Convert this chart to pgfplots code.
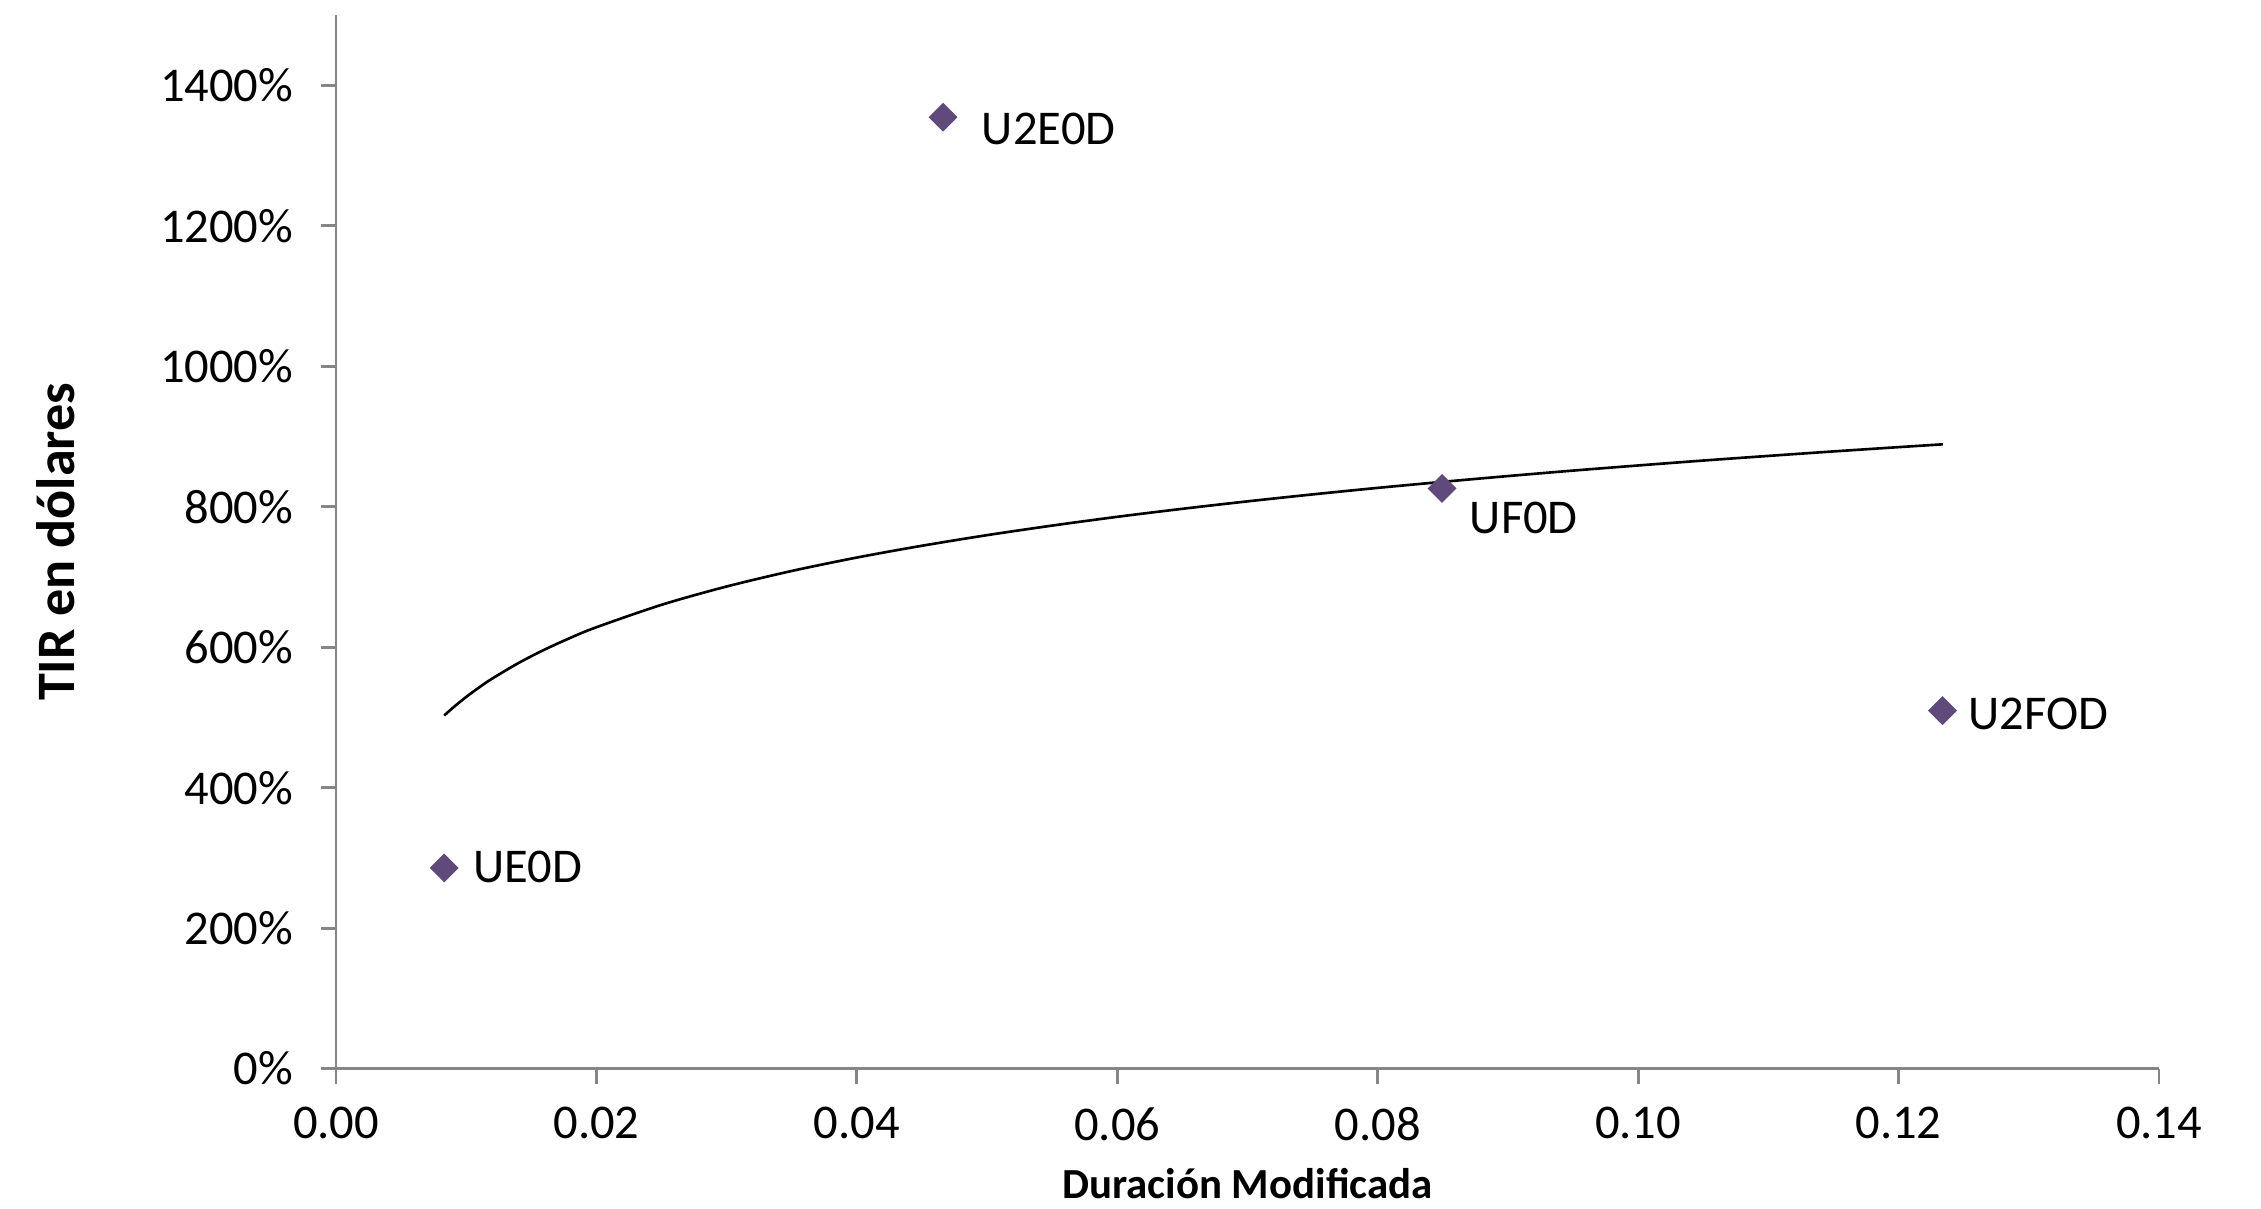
\documentclass[border=0pt]{standalone}
\usepackage{pgfplots}
\pgfplotsset{compat=1.18}
\usepackage{fontspec}
\setmainfont{Carlito}
\definecolor{axgray}{RGB}{134,134,134}
\definecolor{mk}{RGB}{96,74,123}
\begin{document}
\fontsize{13.8}{16.5}\selectfont
\begin{tikzpicture}
\path[use as bounding box] (-33.6mm,-13.94mm) rectangle ++(226.1mm,120.8mm);
\begin{axis}[
  at={(0,0)}, anchor=south west,
  scale only axis,
  width=182.3mm, height=105.36mm,
  xmin=0, xmax=0.14, ymin=0, ymax=1500,
  axis x line=bottom, axis y line=left,
  axis line style={-, axgray, line width=0.8pt},
  tick style={axgray, line width=0.8pt},
  tick align=outside,
  major tick length=1.5mm,
  xtick={0,0.02,0.04,0.06,0.08,0.10,0.12,0.14},
  ytick={0,200,400,600,800,1000,1200,1400},
  /pgf/number format/assume math mode=true,
  /pgf/number format/1000 sep={},
  ticklabel style={font=\fontsize{13.8}{16.5}\selectfont},
  xticklabel style={/pgf/number format/fixed, /pgf/number format/fixed zerofill, /pgf/number format/precision=2, yshift=-0.7mm},
  yticklabel={\pgfmathprintnumber{\tick}\%},
  yticklabel style={xshift=-1.1mm},
  every axis x label/.style={at={(rel axis cs:0.5,0)}, yshift=-11.5mm, anchor=center, font=\bfseries\fontsize{12.2}{14}\selectfont},
  every axis y label/.style={at={(rel axis cs:0,0.5)}, xshift=-28.0mm, rotate=90, anchor=center, font=\bfseries\fontsize{15.4}{18}\selectfont},
  xlabel={Duración Modificada},
  ylabel={TIR en dólares},
  clip=false,
  mkstyle/.style={only marks, mark=square*, mark size=0.95mm, mark options={rotate=45, fill=mk, draw=mk},
    nodes near coords style={black, font=\fontsize{13.8}{16.5}\selectfont}},
]
% trendline (logarithmic fit)
\addplot[black, line width=0.75pt, smooth] coordinates {
(0.00831,502.7) (0.009,514.1) (0.010,529.2) (0.011,542.8) (0.012,555.3) (0.014,577.3)
(0.016,596.4) (0.018,613.3) (0.020,628.4) (0.025,660.3) (0.030,686.4) (0.035,708.5)
(0.040,727.6) (0.045,744.4) (0.050,759.5) (0.055,773.1) (0.060,785.6) (0.065,797.0)
(0.070,807.6) (0.075,817.5) (0.080,826.8) (0.085,835.4) (0.090,843.6) (0.095,851.4)
(0.100,858.7) (0.105,865.7) (0.110,872.3) (0.115,878.7) (0.120,884.8) (0.1234,888.8)
};
\addplot[mkstyle, nodes near coords={UE0D}, nodes near coords style={anchor=west, xshift=1.2mm, yshift=0.1mm}] coordinates {(0.00831,285.7)};
\addplot[mkstyle, nodes near coords={U2E0D}, nodes near coords style={anchor=west, xshift=2.2mm, yshift=-1.2mm}] coordinates {(0.04662,1354.6)};
\addplot[mkstyle, nodes near coords={UF0D}, nodes near coords style={anchor=west, xshift=1.1mm, yshift=-3.0mm}] coordinates {(0.08494,826.0)};
\addplot[mkstyle, nodes near coords={U2FOD}, nodes near coords style={anchor=west, xshift=0.95mm, yshift=-0.3mm}] coordinates {(0.12337,509.7)};
\end{axis}
\end{tikzpicture}
\end{document}
